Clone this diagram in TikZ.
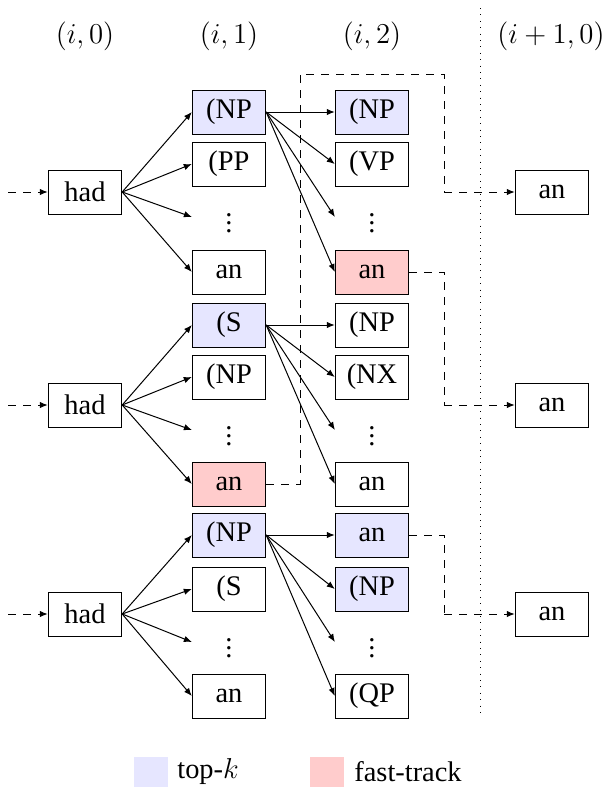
\documentclass[tikz,border=0pt]{standalone}
\usepackage{fontspec}
\setmainfont{Liberation Serif}
\usetikzlibrary{arrows.meta}
\definecolor{topk}{RGB}{230,230,255}
\definecolor{fast}{RGB}{255,204,204}
\begin{document}
\begin{tikzpicture}[x=0.5pt,y=-0.5pt,
  every node/.style={font=\fontsize{14.2}{17}\selectfont},
  cell/.style={draw, line width=0.5pt, minimum width=36.7pt, minimum height=22pt, inner sep=0pt},
  blank/.style={minimum width=36.7pt, minimum height=22pt, inner sep=0pt},
  tk/.style={cell, fill=topk},
  ft/.style={cell, fill=fast},
  arr/.style={-{Latex[length=4pt,width=3.2pt]}, line width=0.5pt},
  dl/.style={dash pattern=on 4pt off 3.5pt},
  darr/.style={arr, dl},
  dline/.style={dl, line width=0.5pt}]
\useasboundingbox (0,0) rectangle (606,787);
% headers
\node (h0) at (85,36) {$(i,0)$};
\node (h1) at (229,36) {$(i,1)$};
\node (h2) at (372,36) {$(i,2)$};
\node (h3) at (551,36) {$(i+1,0)$};
\coordinate (vt) at (480,8);
\coordinate (vb) at (480,718);
\draw[dash pattern=on 0.5pt off 2.7pt, line width=0.5pt] (vt) -- (vb);
% column 1
\node[cell] (had1) at (85,192) {had};
\node[cell] (had2) at (85,405) {had};
\node[cell] (had3) at (85,614) {had};
\coordinate (in1) at (8,192);
\coordinate (in2) at (8,405);
\coordinate (in3) at (8,614);
% column 2
\node[tk] (a1) at (229,112) {(NP};
\node[cell] (a2) at (229,164) {(PP};
\node[blank] (a3) at (229,217) {$\vdots$};
\node[cell] (a4) at (229,272) {an};
\node[tk] (b1) at (229,325) {(S};
\node[cell] (b2) at (229,377) {(NP};
\node[blank] (b3) at (229,430) {$\vdots$};
\node[ft] (b4) at (229,484) {an};
\node[tk] (c1) at (229,535) {(NP};
\node[cell] (c2) at (229,589) {(S};
\node[blank] (c3) at (229,642) {$\vdots$};
\node[cell] (c4) at (229,696) {an};
% column 3
\node[tk] (d1) at (372,112) {(NP};
\node[cell] (d2) at (372,164) {(VP};
\node[blank] (d3) at (372,217) {$\vdots$};
\node[ft] (d4) at (372,272) {an};
\node[cell] (e1) at (372,325) {(NP};
\node[cell] (e2) at (372,377) {(NX};
\node[blank] (e3) at (372,430) {$\vdots$};
\node[cell] (e4) at (372,484) {an};
\node[tk] (f1) at (372,535) {an};
\node[tk] (f2) at (372,589) {(NP};
\node[blank] (f3) at (372,642) {$\vdots$};
\node[cell] (f4) at (372,696) {(QP};
% column 4
\node[cell] (g1) at (552,192) {an};
\node[cell] (g2) at (552,405) {an};
\node[cell] (g3) at (552,614) {an};
% incoming
\draw[darr] (in1) -- (had1);
\draw[darr] (in2) -- (had2);
\draw[darr] (in3) -- (had3);
% fan-outs
\foreach \s/\t in {had1/a, had2/b, had3/c}{
  \foreach \k in {1,2,3,4}{ \draw[arr] (\s.east) -- (\t\k.west); }
}
\foreach \s/\t in {a1/d, b1/e, c1/f}{
  \foreach \k in {1,2,3,4}{ \draw[arr] (\s.east) -- (\t\k.west); }
}
% dashed fast-track paths
\coordinate (p1) at (300,484);
\coordinate (p2) at (300,74);
\coordinate (p3) at (444,74);
\coordinate (p4) at (444,192);
\draw[dline] (b4.east) -- (p1) -- (p2) -- (p3) -- (p4);
\draw[darr] (p4) -- (g1.west);
\coordinate (q1) at (444,272);
\coordinate (q2) at (444,405);
\draw[dline] (d4.east) -- (q1) -- (q2);
\draw[darr] (q2) -- (g2.west);
\coordinate (r1) at (444,535);
\coordinate (r2) at (444,614);
\draw[dline] (f1.east) -- (r1) -- (r2);
\draw[darr] (r2) -- (g3.west);
% legend
\node[fill=topk, minimum width=17pt, minimum height=15pt, inner sep=0pt] (l1) at (151,772) {};
\node[anchor=west, inner sep=0pt] (l1t) at (177,772) {top-$k$};
\node[fill=fast, minimum width=17pt, minimum height=15pt, inner sep=0pt] (l2) at (327,772) {};
\node[anchor=west, inner sep=0pt] (l2t) at (354,772) {fast-track};
\end{tikzpicture}
\end{document}
